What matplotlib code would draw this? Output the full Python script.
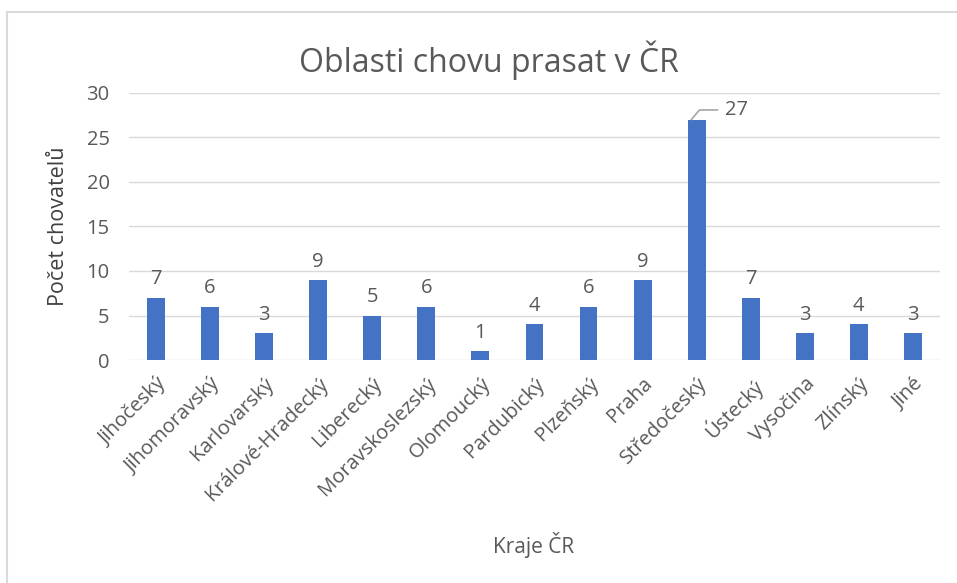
import numpy as np
import matplotlib
matplotlib.use("Agg")
import matplotlib.pyplot as plt
from matplotlib.lines import Line2D

kraje = ["Jihočeský", "Jihomoravský", "Karlovarský", "Králové-Hradecký",
         "Liberecký", "Moravskoslezský", "Olomoucký", "Pardubický", "Plzeňský",
         "Praha", "Středočeský", "Ústecký", "Vysočina", "Zlínský", "Jiné"]
pocty = [7, 6, 3, 9, 5, 6, 1, 4, 6, 9, 27, 7, 3, 4, 3]
y_ticks = [0, 5, 10, 15, 20, 25, 30]

plt.rcParams["font.family"] = ["Open Sans", "DejaVu Sans"]
text_col = "#595959"
bar_col = "#4472c4"
grid_col = "#d9d9d9"

fig = plt.figure(figsize=(9.57, 5.83), dpi=100)
ax = fig.add_axes([0.1348, 0.3825, 0.8474, 0.458])

x = np.arange(len(kraje))
ax.bar(x, pocty, width=0.33, color=bar_col, zorder=3)

for xi, v in zip(x, pocty):
    if v == max(pocty):
        ax.annotate(str(v), xy=(xi - 0.1, v), xytext=(24, 7), textcoords="offset points",
                    fontsize=14.5, color=text_col, va="center", ha="left",
                    arrowprops=dict(arrowstyle="-", color="#a6a6a6", lw=1.2,
                                    shrinkA=3, shrinkB=0,
                                    connectionstyle="angle,angleA=0,angleB=50,rad=0"))
    else:
        ax.annotate(str(v), xy=(xi, v), xytext=(0, 6), textcoords="offset points",
                    fontsize=14.5, color=text_col, ha="center", va="bottom")

ax.set_xlim(-0.5, len(kraje) - 0.5)
ax.set_ylim(0, 30)
ax.set_yticks(y_ticks)
ax.yaxis.grid(True, color=grid_col, lw=1, zorder=0)
for s in ax.spines.values():
    s.set_visible(False)
ax.tick_params(axis="both", length=0, colors=text_col, labelsize=14.5)
ax.tick_params(axis="y", pad=14)
ax.tick_params(axis="x", pad=10)
ax.set_xticks(x)
ax.set_xticklabels(kraje, rotation=45, ha="right", rotation_mode="anchor")

fig.text(0.511, 0.897, "Oblasti chovu prasat v ČR", ha="center", va="center",
         fontsize=23, color=text_col)
fig.text(0.061, 0.612, "Počet chovatelů", rotation=90, ha="center", va="center",
         fontsize=15.5, color="#404040")
fig.text(0.558, 0.065, "Kraje ČR", ha="center", va="center",
         fontsize=15, color=text_col)

fig.add_artist(Line2D([0.0073, 0.0073], [0, 0.979], transform=fig.transFigure,
                      color="#d9d9d9", lw=1.5))
fig.add_artist(Line2D([0.0073, 1], [0.979, 0.979], transform=fig.transFigure,
                      color="#d9d9d9", lw=1.5))

fig.savefig("out.png", dpi=100)
